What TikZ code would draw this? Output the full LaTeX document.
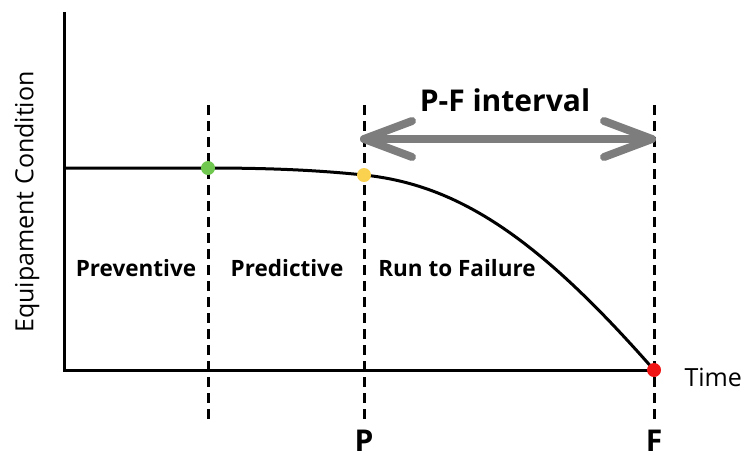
\documentclass[tikz,border=0pt]{standalone}
\usepackage{fontspec}
\setmainfont{Open Sans}
\begin{document}
\begin{tikzpicture}[x=1pt,y=-1pt,
  axis/.style={line width=3pt},
  vdash/.style={line width=3pt, dash pattern=on 10pt off 6pt},
  curveline/.style={line width=3pt},
  pfarrow/.style={line width=8pt, draw=pfgray, line cap=round, line join=round},
  dot/.style={circle, inner sep=0pt, minimum size=14pt},
  zone/.style={font=\fontsize{22.5}{22.5}\selectfont\bfseries, anchor=base},
  letter/.style={font=\fontsize{30}{30}\selectfont\bfseries},
  axlabel/.style={font=\fontsize{25}{25}\selectfont}]
\definecolor{pfgray}{RGB}{125,125,125}
\definecolor{dgreen}{RGB}{112,200,80}
\definecolor{dyellow}{RGB}{250,210,80}
\definecolor{dred}{RGB}{240,20,20}
\useasboundingbox (0,0) rectangle (746,459);
% axes
\coordinate (O) at (64,370);
\coordinate (Ytop) at (64,12);
\coordinate (Xend) at (656,370);
\draw[axis] (Ytop) -- (O) -- (Xend);
% dashed lines
\coordinate (Lt) at (208,105); \coordinate (Lb) at (208,425);
\coordinate (Pt) at (364,105); \coordinate (Pb) at (364,425);
\coordinate (Ft) at (654,105); \coordinate (Fb) at (654,425);
\draw[vdash] (Lt) -- (Lb);
\draw[vdash] (Pt) -- (Pb);
\draw[vdash] (Ft) -- (Fb);
% curve
\coordinate (C0) at (64,168);
\coordinate (Cg) at (208,168);
\coordinate (Cy) at (364,175);
\coordinate (Cr) at (654,370);
\draw[curveline] (C0) -- (Cg) .. controls (280,168) and (325,171) .. (Cy)
  .. controls (460,185) and (540,240) .. (Cr);
% dots
\node[dot, fill=dgreen] (g) at (Cg) {};
\node[dot, fill=dyellow] (y) at (Cy) {};
\node[dot, fill=dred] (r) at (Cr) {};
% P-F arrow
\coordinate (Aa) at (364,139);
\coordinate (Ab) at (652,139);
\draw[pfarrow] (Aa) -- (Ab);
\draw[pfarrow] ([shift={(48,-18)}]Aa) -- (Aa) -- ([shift={(48,18)}]Aa);
\draw[pfarrow] ([shift={(-48,-18)}]Ab) -- (Ab) -- ([shift={(-48,18)}]Ab);
\node[font=\fontsize{30}{30}\selectfont\bfseries] (pf) at (505,100) {P-F interval};
% zone labels
\node[zone] (prev) at (136,276) {Preventive};
\node[zone] (pred) at (287,276) {Predictive};
\node[zone] (rtf) at (457,276) {Run to Failure};
% letters
\node[letter] (P) at (364,441) {P};
\node[letter] (F) at (654,441) {F};
% axis labels
\node[axlabel, anchor=west] (time) at (681,377) {Time};
\node[axlabel, rotate=90] (ylab) at (27,202) {Equipament Condition};
\end{tikzpicture}
\end{document}
